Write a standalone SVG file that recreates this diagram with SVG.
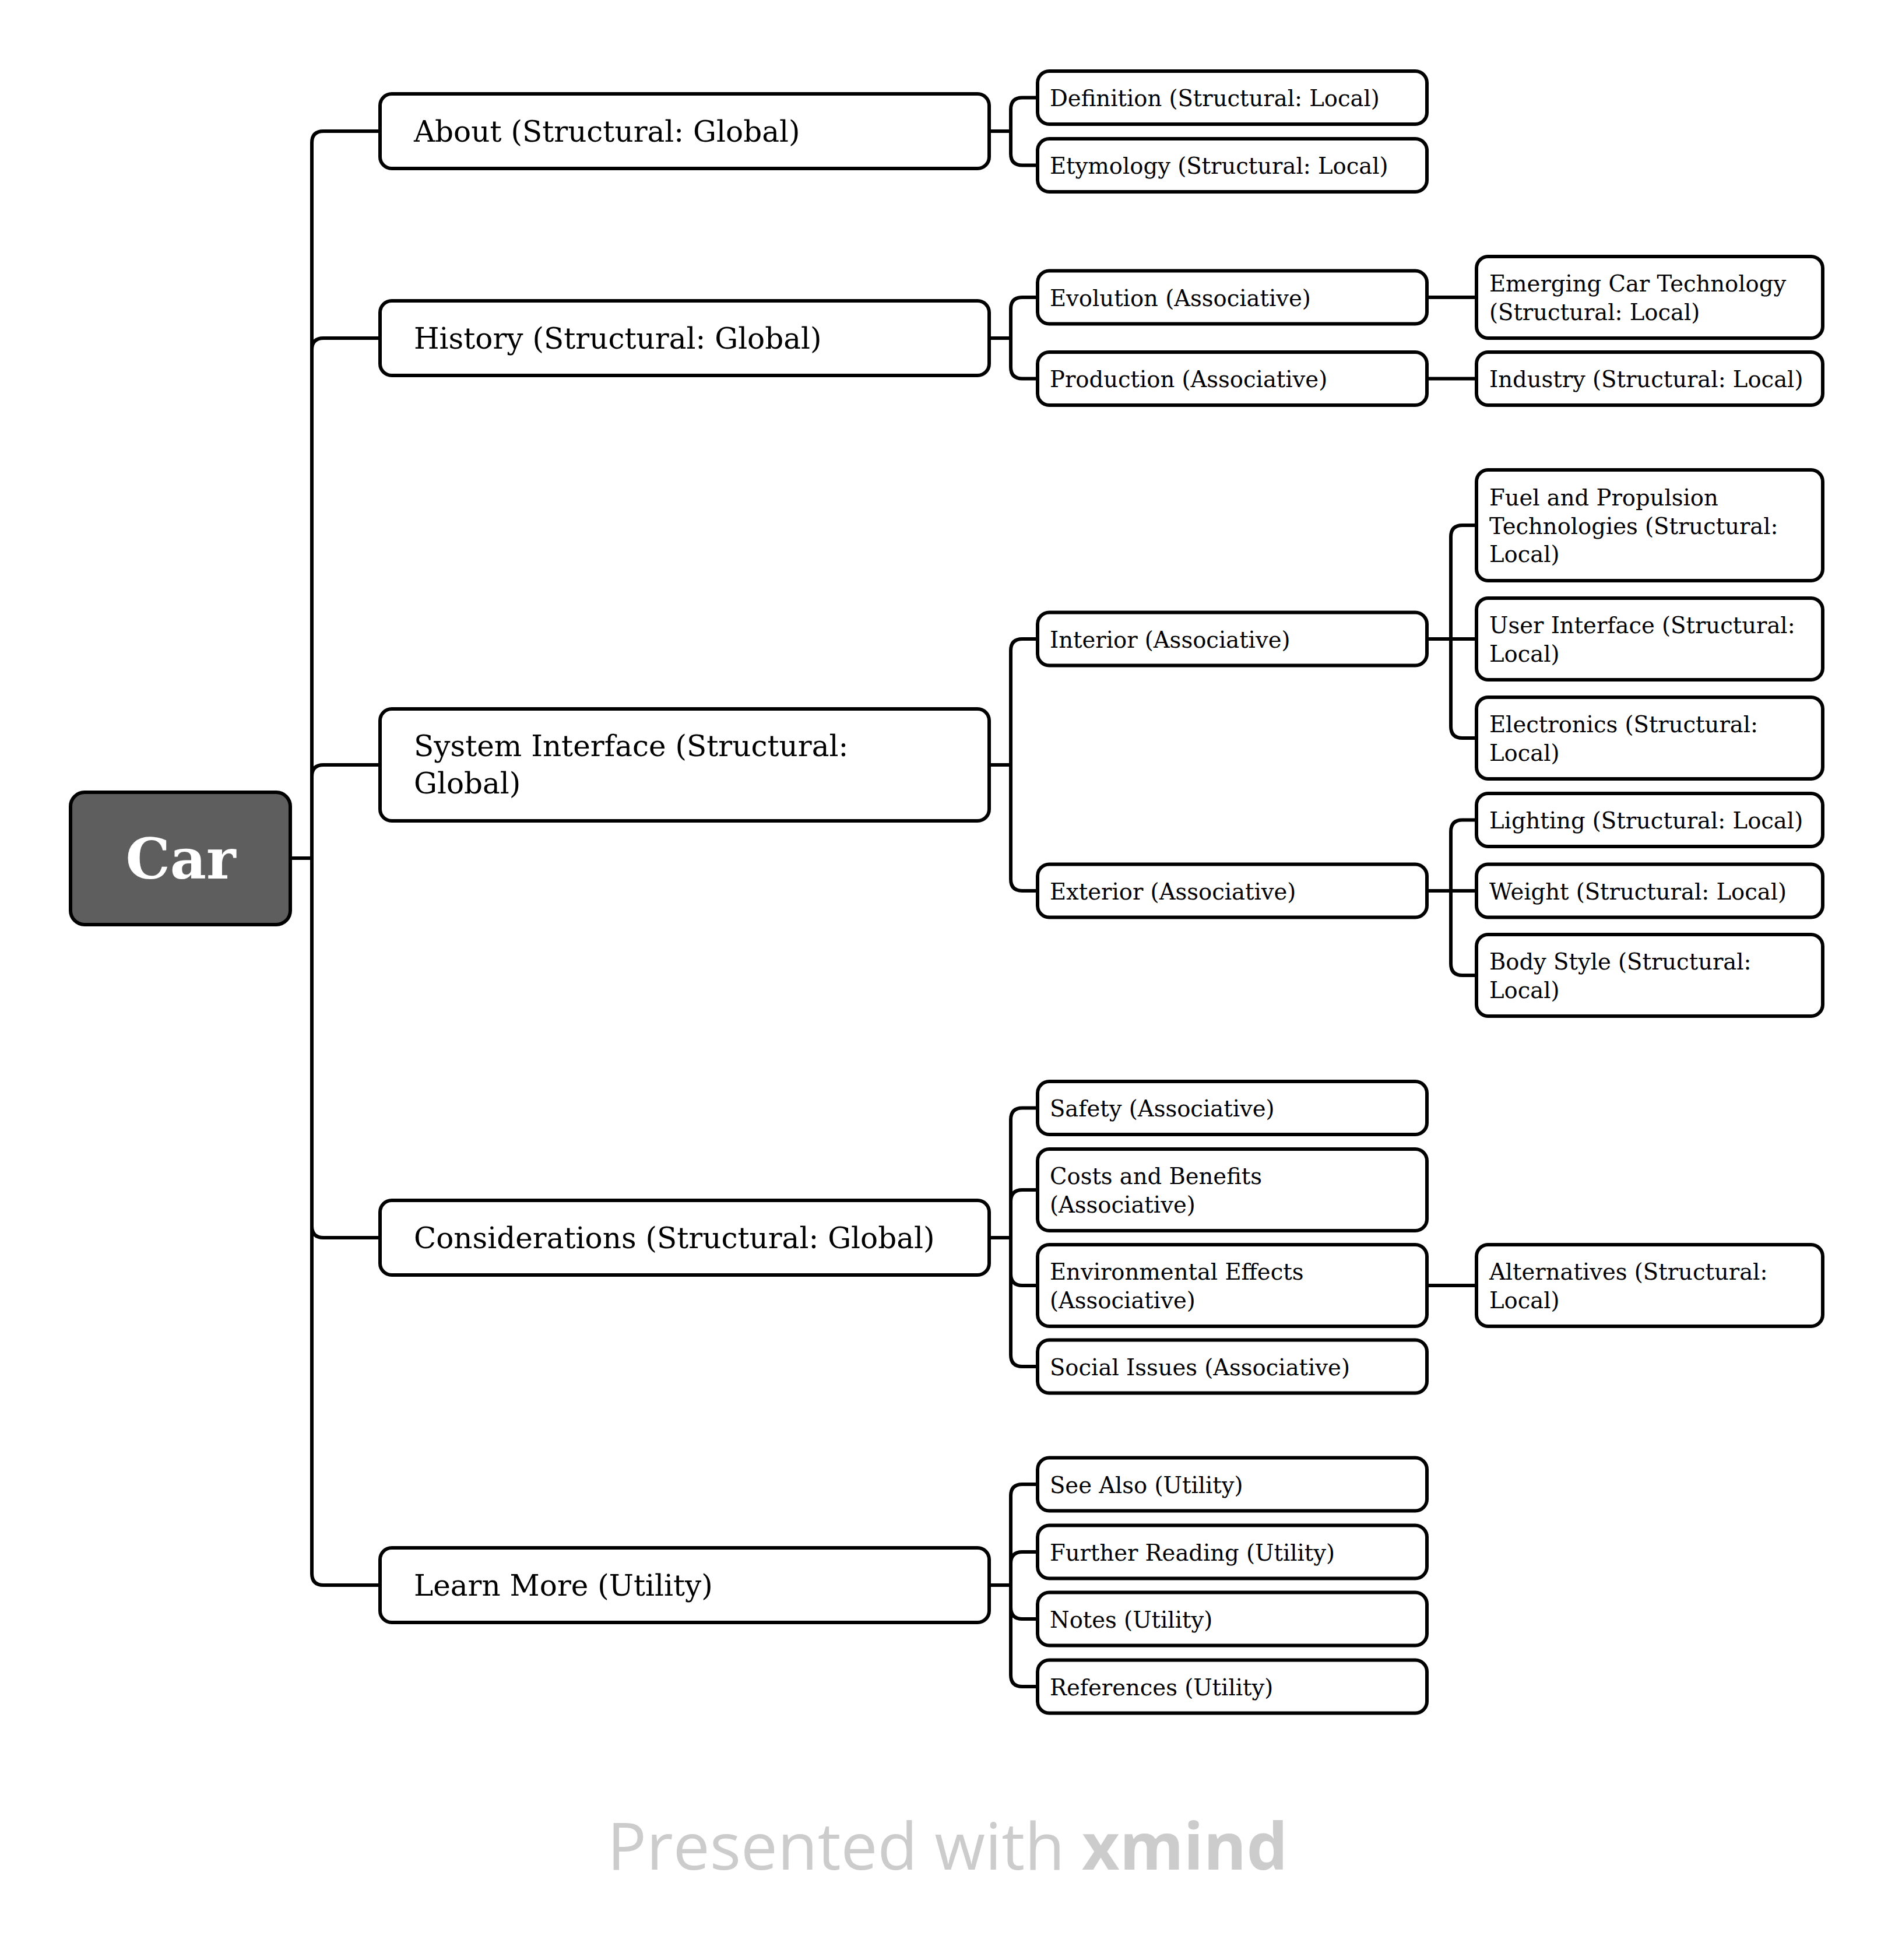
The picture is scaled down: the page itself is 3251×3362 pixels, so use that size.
<svg xmlns="http://www.w3.org/2000/svg" width="3251" height="3362" viewBox="0 0 3251 3362">
<style>
.box{fill:#ffffff;stroke:#000000;stroke-width:6}
.root{fill:#5e5e5e;stroke:#000000;stroke-width:6}
.link{fill:none;stroke:#000000;stroke-width:6}
text{font-family:"DejaVu Serif","Liberation Serif",serif;fill:#000000}
.t0{font-size:96px;font-weight:bold;fill:#ffffff}
.t1{font-size:50px}
.t2{font-size:38.5px}
.wm{font-family:"Open Sans","Noto Sans",sans-serif;font-size:112px;fill:#cccccc}
</style>
<rect width="3251" height="3362" fill="#ffffff"/>
<g id="connectors">
<path class="link" d="M498 1472 H535"/>
<path class="link" d="M535 1472 V245 Q535 225 555 225 H652"/>
<path class="link" d="M535 1472 V600 Q535 580 555 580 H652"/>
<path class="link" d="M535 1472 V1332 Q535 1312 555 1312 H652"/>
<path class="link" d="M535 1472 V2103 Q535 2123 555 2123 H652"/>
<path class="link" d="M535 1472 V2699 Q535 2719 555 2719 H652"/>
<path class="link" d="M1697 225 H1734 M1734 225 V187.5 Q1734 167.5 1754 167.5 H1780 M1734 225 V263.5 Q1734 283.5 1754 283.5 H1780"/>
<path class="link" d="M1697 580 H1734 M1734 580 V530 Q1734 510 1754 510 H1780 M1734 580 V629.5 Q1734 649.5 1754 649.5 H1780"/>
<path class="link" d="M1697 1312 H1734 M1734 1312 V1116 Q1734 1096 1754 1096 H1780 M1734 1312 V1508 Q1734 1528 1754 1528 H1780"/>
<path class="link" d="M1697 2123 H1734 M1734 2123 V1920.5 Q1734 1900.5 1754 1900.5 H1780 M1734 2123 V2061 Q1734 2041 1754 2041 H1780 M1734 2123 V2185 Q1734 2205 1754 2205 H1780 M1734 2123 V2324 Q1734 2344 1754 2344 H1780"/>
<path class="link" d="M1697 2719 H1734 M1734 2719 V2566 Q1734 2546 1754 2546 H1780 M1734 2719 V2682 Q1734 2662 1754 2662 H1780 M1734 2719 V2757 Q1734 2777 1754 2777 H1780 M1734 2719 V2873 Q1734 2893 1754 2893 H1780"/>
<path class="link" d="M2448 510 H2533"/>
<path class="link" d="M2448 649.5 H2533"/>
<path class="link" d="M2448 1096 H2533 M2489 1096 V921 Q2489 901 2509 901 H2533 M2489 1096 V1246 Q2489 1266 2509 1266 H2533"/>
<path class="link" d="M2448 1528 H2533 M2489 1528 V1426.5 Q2489 1406.5 2509 1406.5 H2533 M2489 1528 V1653 Q2489 1673 2509 1673 H2533"/>
<path class="link" d="M2448 2205 H2533"/>
</g>
<g id="node-car"><rect class="root" x="121" y="1359" width="377" height="227" rx="24"/><text class="t0" x="310" y="1507" text-anchor="middle">Car</text></g>
<g id="node-about"><rect class="box" x="652" y="161" width="1045" height="128" rx="20"/><text class="t1" x="710" y="243">About (Structural: Global)</text></g>
<g id="node-history"><rect class="box" x="652" y="516" width="1045" height="128" rx="20"/><text class="t1" x="710" y="598">History (Structural: Global)</text></g>
<g id="node-system-interface"><rect class="box" x="652" y="1216" width="1045" height="192" rx="20"/><text class="t1" x="710" y="1297">System Interface (Structural:<tspan x="710" dy="64">Global)</tspan></text></g>
<g id="node-considerations"><rect class="box" x="652" y="2059" width="1045" height="128" rx="20"/><text class="t1" x="710" y="2141">Considerations (Structural: Global)</text></g>
<g id="node-learn-more"><rect class="box" x="652" y="2655" width="1045" height="128" rx="20"/><text class="t1" x="710" y="2737">Learn More (Utility)</text></g>
<g id="node-definition"><rect class="box" x="1780" y="122" width="668" height="91" rx="20"/><text class="t2" x="1801" y="182">Definition (Structural: Local)</text></g>
<g id="node-etymology"><rect class="box" x="1780" y="238" width="668" height="91" rx="20"/><text class="t2" x="1801" y="298">Etymology (Structural: Local)</text></g>
<g id="node-evolution"><rect class="box" x="1780" y="464.5" width="668" height="91" rx="20"/><text class="t2" x="1801" y="525">Evolution (Associative)</text></g>
<g id="node-production"><rect class="box" x="1780" y="604" width="668" height="91" rx="20"/><text class="t2" x="1801" y="664">Production (Associative)</text></g>
<g id="node-interior"><rect class="box" x="1780" y="1050.5" width="668" height="91" rx="20"/><text class="t2" x="1801" y="1111">Interior (Associative)</text></g>
<g id="node-exterior"><rect class="box" x="1780" y="1482.5" width="668" height="91" rx="20"/><text class="t2" x="1801" y="1543">Exterior (Associative)</text></g>
<g id="node-safety"><rect class="box" x="1780" y="1855" width="668" height="91" rx="20"/><text class="t2" x="1801" y="1915">Safety (Associative)</text></g>
<g id="node-costs"><rect class="box" x="1780" y="1971" width="668" height="140" rx="20"/><text class="t2" x="1801" y="2031">Costs and Benefits<tspan x="1801" dy="48.5">(Associative)</tspan></text></g>
<g id="node-environmental"><rect class="box" x="1780" y="2135" width="668" height="140" rx="20"/><text class="t2" x="1801" y="2195">Environmental Effects<tspan x="1801" dy="48.5">(Associative)</tspan></text></g>
<g id="node-social"><rect class="box" x="1780" y="2298.5" width="668" height="91" rx="20"/><text class="t2" x="1801" y="2359">Social Issues (Associative)</text></g>
<g id="node-see-also"><rect class="box" x="1780" y="2500.5" width="668" height="91" rx="20"/><text class="t2" x="1801" y="2561">See Also (Utility)</text></g>
<g id="node-further-reading"><rect class="box" x="1780" y="2616.5" width="668" height="91" rx="20"/><text class="t2" x="1801" y="2677">Further Reading (Utility)</text></g>
<g id="node-notes"><rect class="box" x="1780" y="2731.5" width="668" height="91" rx="20"/><text class="t2" x="1801" y="2792">Notes (Utility)</text></g>
<g id="node-references"><rect class="box" x="1780" y="2847.5" width="668" height="91" rx="20"/><text class="t2" x="1801" y="2908">References (Utility)</text></g>
<g id="node-emerging"><rect class="box" x="2533" y="440" width="594" height="140" rx="20"/><text class="t2" x="2555" y="500">Emerging Car Technology<tspan x="2555" dy="48.5">(Structural: Local)</tspan></text></g>
<g id="node-industry"><rect class="box" x="2533" y="604" width="594" height="91" rx="20"/><text class="t2" x="2555" y="664">Industry (Structural: Local)</text></g>
<g id="node-fuel"><rect class="box" x="2533" y="806" width="594" height="190" rx="20"/><text class="t2" x="2555" y="867">Fuel and Propulsion<tspan x="2555" dy="48.5">Technologies (Structural:</tspan><tspan x="2555" dy="48.5">Local)</tspan></text></g>
<g id="node-user-interface"><rect class="box" x="2533" y="1026" width="594" height="140" rx="20"/><text class="t2" x="2555" y="1086">User Interface (Structural:<tspan x="2555" dy="48.5">Local)</tspan></text></g>
<g id="node-electronics"><rect class="box" x="2533" y="1196" width="594" height="140" rx="20"/><text class="t2" x="2555" y="1256">Electronics (Structural:<tspan x="2555" dy="48.5">Local)</tspan></text></g>
<g id="node-lighting"><rect class="box" x="2533" y="1361" width="594" height="91" rx="20"/><text class="t2" x="2555" y="1421">Lighting (Structural: Local)</text></g>
<g id="node-weight"><rect class="box" x="2533" y="1482.5" width="594" height="91" rx="20"/><text class="t2" x="2555" y="1543">Weight (Structural: Local)</text></g>
<g id="node-body-style"><rect class="box" x="2533" y="1603" width="594" height="140" rx="20"/><text class="t2" x="2555" y="1663">Body Style (Structural:<tspan x="2555" dy="48.5">Local)</tspan></text></g>
<g id="node-alternatives"><rect class="box" x="2533" y="2135" width="594" height="140" rx="20"/><text class="t2" x="2555" y="2195">Alternatives (Structural:<tspan x="2555" dy="48.5">Local)</tspan></text></g>
<g id="watermark"><text class="wm" x="1625.5" y="3207" text-anchor="middle">Presented with <tspan font-weight="bold">xmind</tspan></text></g>
</svg>
